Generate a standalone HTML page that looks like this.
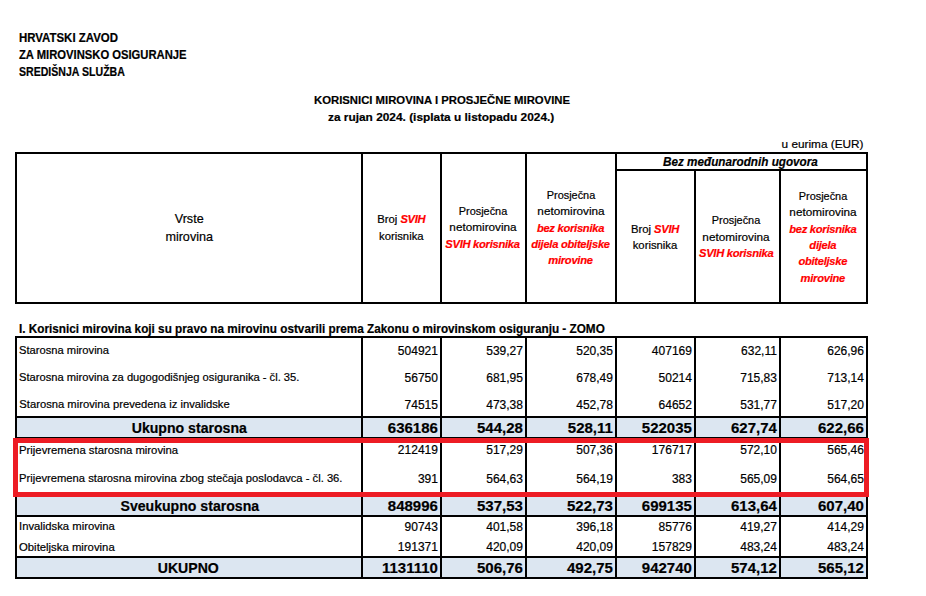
<!DOCTYPE html><html><head><meta charset="utf-8"><style>
html,body{margin:0;padding:0;background:#fff;}
body{width:926px;height:596px;position:relative;overflow:hidden;font-family:"Liberation Sans",sans-serif;}
.t{position:absolute;white-space:pre;line-height:1;-webkit-text-stroke:0.2px currentColor;}
.r{position:absolute;}
</style></head><body>
<div class="r" style="left:17px;top:418px;width:849px;height:19px;background:#DCE6F1"></div>
<div class="r" style="left:17px;top:497px;width:849px;height:18px;background:#DCE6F1"></div>
<div class="r" style="left:17px;top:558px;width:849px;height:19px;background:#DCE6F1"></div>
<div class="r" style="left:15px;top:152px;width:853px;height:2px;background:#000"></div>
<div class="r" style="left:15px;top:302px;width:853px;height:2px;background:#000"></div>
<div class="r" style="left:616px;top:169px;width:251px;height:2px;background:#000"></div>
<div class="r" style="left:15px;top:152px;width:2px;height:152px;background:#000"></div>
<div class="r" style="left:361px;top:152px;width:2px;height:152px;background:#000"></div>
<div class="r" style="left:440px;top:152px;width:2px;height:152px;background:#000"></div>
<div class="r" style="left:525px;top:152px;width:2px;height:152px;background:#000"></div>
<div class="r" style="left:615px;top:152px;width:2px;height:152px;background:#000"></div>
<div class="r" style="left:694px;top:170px;width:2px;height:134px;background:#000"></div>
<div class="r" style="left:779px;top:170px;width:2px;height:134px;background:#000"></div>
<div class="r" style="left:866px;top:152px;width:2px;height:152px;background:#000"></div>
<div class="r" style="left:15px;top:336px;width:853px;height:2px;background:#000"></div>
<div class="r" style="left:15px;top:416px;width:853px;height:2px;background:#000"></div>
<div class="r" style="left:15px;top:437px;width:853px;height:2px;background:#000"></div>
<div class="r" style="left:15px;top:495px;width:853px;height:2px;background:#000"></div>
<div class="r" style="left:15px;top:515px;width:853px;height:2px;background:#000"></div>
<div class="r" style="left:15px;top:556px;width:853px;height:2px;background:#000"></div>
<div class="r" style="left:15px;top:577px;width:853px;height:2px;background:#000"></div>
<div class="r" style="left:15px;top:336px;width:2px;height:243px;background:#000"></div>
<div class="r" style="left:361px;top:336px;width:2px;height:243px;background:#000"></div>
<div class="r" style="left:440px;top:336px;width:2px;height:243px;background:#000"></div>
<div class="r" style="left:525px;top:336px;width:2px;height:243px;background:#000"></div>
<div class="r" style="left:615px;top:336px;width:2px;height:243px;background:#000"></div>
<div class="r" style="left:694px;top:336px;width:2px;height:243px;background:#000"></div>
<div class="r" style="left:779px;top:336px;width:2px;height:243px;background:#000"></div>
<div class="r" style="left:866px;top:336px;width:2px;height:243px;background:#000"></div>
<div class="r" style="left:13px;top:438px;width:846px;height:49px;border:5px solid #ED1C24"></div>
<div class="t" style="font-size:12.1px;top:32.06px;font-weight:bold;font-style:normal;color:#000;left:19.48px;transform-origin:0 0;transform:scaleX(0.9457);">HRVATSKI ZAVOD</div>
<div class="t" style="font-size:12.1px;top:48.96px;font-weight:bold;font-style:normal;color:#000;left:19.47px;transform-origin:0 0;transform:scaleX(0.9293);">ZA MIROVINSKO OSIGURANJE</div>
<div class="t" style="font-size:12.1px;top:65.96px;font-weight:bold;font-style:normal;color:#000;left:19.46px;transform-origin:0 0;transform:scaleX(0.8738);">SREDIŠNJA SLUŽBA</div>
<div class="t" style="font-size:11.8px;top:95.01px;font-weight:bold;font-style:normal;color:#000;left:314.08px;transform-origin:0 0;transform:scaleX(0.9590);">KORISNICI MIROVINA I PROSJEČNE MIROVINE</div>
<div class="t" style="font-size:11.8px;top:112.01px;font-weight:bold;font-style:normal;color:#000;left:328.19px;transform-origin:0 0;transform:scaleX(1.0062);">za rujan 2024. (isplata u listopadu 2024.)</div>
<div class="t" style="font-size:11.8px;top:138.91px;font-weight:normal;font-style:normal;color:#000;right:62.50px;transform-origin:100% 0;">u eurima (EUR)</div>
<div class="t" style="font-size:12.6px;top:213.03px;font-weight:normal;font-style:normal;color:#000;left:189.2px;transform:translateX(-50%);">Vrste</div>
<div class="t" style="font-size:12.6px;top:231.03px;font-weight:normal;font-style:normal;color:#000;left:189.2px;transform:translateX(-50%);">mirovina</div>
<div class="t" style="font-size:11.3px;top:213.63px;font-weight:normal;font-style:normal;color:#000;left:401.3px;transform:translateX(-50%);">Broj <b style="font-style:italic;color:#FF0000;font-size:11.2px;letter-spacing:-0.28px">SVIH</b></div>
<div class="t" style="font-size:11.3px;top:230.73px;font-weight:normal;font-style:normal;color:#000;left:401.3px;transform:translateX(-50%);">korisnika</div>
<div class="t" style="font-size:11.3px;top:205.58px;font-weight:normal;font-style:normal;color:#000;left:482.5px;transform:translateX(-50%) scaleX(0.965);">Prosječna</div>
<div class="t" style="font-size:11.3px;top:221.78px;font-weight:normal;font-style:normal;color:#000;left:482.5px;transform:translateX(-50%) scaleX(1.04);">netomirovina</div>
<div class="t" style="font-size:11.3px;top:238.78px;font-weight:normal;font-style:normal;color:#000;left:482.5px;transform:translateX(-50%);"><b style="font-style:italic;color:#FF0000;font-size:11.2px;letter-spacing:-0.28px">SVIH korisnika</b></div>
<div class="t" style="font-size:11.3px;top:189.53px;font-weight:normal;font-style:normal;color:#000;left:570.5px;transform:translateX(-50%) scaleX(0.965);">Prosječna</div>
<div class="t" style="font-size:11.3px;top:205.73px;font-weight:normal;font-style:normal;color:#000;left:570.5px;transform:translateX(-50%) scaleX(1.04);">netomirovina</div>
<div class="t" style="font-size:11.3px;top:222.73px;font-weight:normal;font-style:normal;color:#000;left:570.5px;transform:translateX(-50%);"><b style="font-style:italic;color:#FF0000;font-size:11.2px;letter-spacing:-0.28px">bez korisnika</b></div>
<div class="t" style="font-size:11.3px;top:238.93px;font-weight:normal;font-style:normal;color:#000;left:570.5px;transform:translateX(-50%);"><b style="font-style:italic;color:#FF0000;font-size:11.2px;letter-spacing:-0.28px">dijela obiteljske</b></div>
<div class="t" style="font-size:11.3px;top:255.13px;font-weight:normal;font-style:normal;color:#000;left:570.5px;transform:translateX(-50%);"><b style="font-style:italic;color:#FF0000;font-size:11.2px;letter-spacing:-0.28px">mirovine</b></div>
<div class="t" style="font-size:12.1px;top:155.56px;font-weight:bold;font-style:italic;color:#000;left:662.88px;transform-origin:0 0;transform:scaleX(0.9683);">Bez međunarodnih ugovora</div>
<div class="t" style="font-size:11.3px;top:223.63px;font-weight:normal;font-style:normal;color:#000;left:655px;transform:translateX(-50%);">Broj <b style="font-style:italic;color:#FF0000;font-size:11.2px;letter-spacing:-0.28px">SVIH</b></div>
<div class="t" style="font-size:11.3px;top:239.83px;font-weight:normal;font-style:normal;color:#000;left:655px;transform:translateX(-50%);">korisnika</div>
<div class="t" style="font-size:11.3px;top:215.18px;font-weight:normal;font-style:normal;color:#000;left:736.2px;transform:translateX(-50%) scaleX(0.965);">Prosječna</div>
<div class="t" style="font-size:11.3px;top:232.18px;font-weight:normal;font-style:normal;color:#000;left:736.2px;transform:translateX(-50%) scaleX(1.04);">netomirovina</div>
<div class="t" style="font-size:11.3px;top:248.38px;font-weight:normal;font-style:normal;color:#000;left:736.2px;transform:translateX(-50%);"><b style="font-style:italic;color:#FF0000;font-size:11.2px;letter-spacing:-0.28px">SVIH korisnika</b></div>
<div class="t" style="font-size:11.3px;top:190.73px;font-weight:normal;font-style:normal;color:#000;left:822.8px;transform:translateX(-50%) scaleX(0.965);">Prosječna</div>
<div class="t" style="font-size:11.3px;top:206.93px;font-weight:normal;font-style:normal;color:#000;left:822.8px;transform:translateX(-50%) scaleX(1.04);">netomirovina</div>
<div class="t" style="font-size:11.3px;top:223.93px;font-weight:normal;font-style:normal;color:#000;left:822.8px;transform:translateX(-50%);"><b style="font-style:italic;color:#FF0000;font-size:11.2px;letter-spacing:-0.28px">bez korisnika</b></div>
<div class="t" style="font-size:11.3px;top:240.13px;font-weight:normal;font-style:normal;color:#000;left:822.8px;transform:translateX(-50%);"><b style="font-style:italic;color:#FF0000;font-size:11.2px;letter-spacing:-0.28px">dijela</b></div>
<div class="t" style="font-size:11.3px;top:256.33px;font-weight:normal;font-style:normal;color:#000;left:822.8px;transform:translateX(-50%);"><b style="font-style:italic;color:#FF0000;font-size:11.2px;letter-spacing:-0.28px">obiteljske</b></div>
<div class="t" style="font-size:11.3px;top:272.53px;font-weight:normal;font-style:normal;color:#000;left:822.8px;transform:translateX(-50%);"><b style="font-style:italic;color:#FF0000;font-size:11.2px;letter-spacing:-0.28px">mirovine</b></div>
<div class="t" style="font-size:12.2px;top:323.17px;font-weight:bold;font-style:normal;color:#000;left:19.31px;transform-origin:0 0;transform:scaleX(0.9643);">I. Korisnici mirovina koji su pravo na mirovinu ostvarili prema Zakonu o mirovinskom osiguranju - ZOMO</div>
<div class="t" style="font-size:11.24px;top:345.49px;font-weight:normal;font-style:normal;color:#000;left:19.29px;transform-origin:0 0;transform:scaleX(0.9945);">Starosna mirovina</div>
<div class="t" style="font-size:12px;top:344.84px;font-weight:normal;font-style:normal;color:#000;right:488.10px;transform-origin:100% 0;">504921</div>
<div class="t" style="font-size:12px;top:344.84px;font-weight:normal;font-style:normal;color:#000;right:403.10px;transform-origin:100% 0;">539,27</div>
<div class="t" style="font-size:12px;top:344.84px;font-weight:normal;font-style:normal;color:#000;right:313.10px;transform-origin:100% 0;">520,35</div>
<div class="t" style="font-size:12px;top:344.84px;font-weight:normal;font-style:normal;color:#000;right:234.10px;transform-origin:100% 0;">407169</div>
<div class="t" style="font-size:12px;top:344.84px;font-weight:normal;font-style:normal;color:#000;right:149.10px;transform-origin:100% 0;">632,11</div>
<div class="t" style="font-size:12px;top:344.84px;font-weight:normal;font-style:normal;color:#000;right:62.10px;transform-origin:100% 0;">626,96</div>
<div class="t" style="font-size:11.24px;top:372.49px;font-weight:normal;font-style:normal;color:#000;left:19.29px;transform-origin:0 0;transform:scaleX(0.9933);">Starosna mirovina za dugogodišnjeg osiguranika - čl. 35.</div>
<div class="t" style="font-size:12px;top:371.84px;font-weight:normal;font-style:normal;color:#000;right:488.10px;transform-origin:100% 0;">56750</div>
<div class="t" style="font-size:12px;top:371.84px;font-weight:normal;font-style:normal;color:#000;right:403.10px;transform-origin:100% 0;">681,95</div>
<div class="t" style="font-size:12px;top:371.84px;font-weight:normal;font-style:normal;color:#000;right:313.10px;transform-origin:100% 0;">678,49</div>
<div class="t" style="font-size:12px;top:371.84px;font-weight:normal;font-style:normal;color:#000;right:234.10px;transform-origin:100% 0;">50214</div>
<div class="t" style="font-size:12px;top:371.84px;font-weight:normal;font-style:normal;color:#000;right:149.10px;transform-origin:100% 0;">715,83</div>
<div class="t" style="font-size:12px;top:371.84px;font-weight:normal;font-style:normal;color:#000;right:62.10px;transform-origin:100% 0;">713,14</div>
<div class="t" style="font-size:11.24px;top:399.19px;font-weight:normal;font-style:normal;color:#000;left:19.29px;transform-origin:0 0;transform:scaleX(1.0000);">Starosna mirovina prevedena iz invalidske</div>
<div class="t" style="font-size:12px;top:398.54px;font-weight:normal;font-style:normal;color:#000;right:488.10px;transform-origin:100% 0;">74515</div>
<div class="t" style="font-size:12px;top:398.54px;font-weight:normal;font-style:normal;color:#000;right:403.10px;transform-origin:100% 0;">473,38</div>
<div class="t" style="font-size:12px;top:398.54px;font-weight:normal;font-style:normal;color:#000;right:313.10px;transform-origin:100% 0;">452,78</div>
<div class="t" style="font-size:12px;top:398.54px;font-weight:normal;font-style:normal;color:#000;right:234.10px;transform-origin:100% 0;">64652</div>
<div class="t" style="font-size:12px;top:398.54px;font-weight:normal;font-style:normal;color:#000;right:149.10px;transform-origin:100% 0;">531,77</div>
<div class="t" style="font-size:12px;top:398.54px;font-weight:normal;font-style:normal;color:#000;right:62.10px;transform-origin:100% 0;">517,20</div>
<div class="t" style="font-size:14.1px;top:421.06px;font-weight:bold;font-style:normal;color:#000;left:189.3px;transform:translateX(-50%);">Ukupno starosna</div>
<div class="t" style="font-size:15px;top:420.30px;font-weight:bold;font-style:normal;color:#000;right:488.10px;transform-origin:100% 0;">636186</div>
<div class="t" style="font-size:15px;top:420.30px;font-weight:bold;font-style:normal;color:#000;right:403.10px;transform-origin:100% 0;">544,28</div>
<div class="t" style="font-size:15px;top:420.30px;font-weight:bold;font-style:normal;color:#000;right:313.10px;transform-origin:100% 0;">528,11</div>
<div class="t" style="font-size:15px;top:420.30px;font-weight:bold;font-style:normal;color:#000;right:234.10px;transform-origin:100% 0;">522035</div>
<div class="t" style="font-size:15px;top:420.30px;font-weight:bold;font-style:normal;color:#000;right:149.10px;transform-origin:100% 0;">627,74</div>
<div class="t" style="font-size:15px;top:420.30px;font-weight:bold;font-style:normal;color:#000;right:62.10px;transform-origin:100% 0;">622,66</div>
<div class="t" style="font-size:11.24px;top:444.99px;font-weight:normal;font-style:normal;color:#000;left:19.29px;transform-origin:0 0;transform:scaleX(1.0075);">Prijevremena starosna mirovina</div>
<div class="t" style="font-size:12px;top:444.34px;font-weight:normal;font-style:normal;color:#000;right:488.10px;transform-origin:100% 0;">212419</div>
<div class="t" style="font-size:12px;top:444.34px;font-weight:normal;font-style:normal;color:#000;right:403.10px;transform-origin:100% 0;">517,29</div>
<div class="t" style="font-size:12px;top:444.34px;font-weight:normal;font-style:normal;color:#000;right:313.10px;transform-origin:100% 0;">507,36</div>
<div class="t" style="font-size:12px;top:444.34px;font-weight:normal;font-style:normal;color:#000;right:234.10px;transform-origin:100% 0;">176717</div>
<div class="t" style="font-size:12px;top:444.34px;font-weight:normal;font-style:normal;color:#000;right:149.10px;transform-origin:100% 0;">572,10</div>
<div class="t" style="font-size:12px;top:444.34px;font-weight:normal;font-style:normal;color:#000;right:62.10px;transform-origin:100% 0;">565,46</div>
<div class="t" style="font-size:11.24px;top:473.49px;font-weight:normal;font-style:normal;color:#000;left:19.29px;transform-origin:0 0;transform:scaleX(0.9981);">Prijevremena starosna mirovina zbog stečaja poslodavca - čl. 36.</div>
<div class="t" style="font-size:12px;top:472.84px;font-weight:normal;font-style:normal;color:#000;right:488.10px;transform-origin:100% 0;">391</div>
<div class="t" style="font-size:12px;top:472.84px;font-weight:normal;font-style:normal;color:#000;right:403.10px;transform-origin:100% 0;">564,63</div>
<div class="t" style="font-size:12px;top:472.84px;font-weight:normal;font-style:normal;color:#000;right:313.10px;transform-origin:100% 0;">564,19</div>
<div class="t" style="font-size:12px;top:472.84px;font-weight:normal;font-style:normal;color:#000;right:234.10px;transform-origin:100% 0;">383</div>
<div class="t" style="font-size:12px;top:472.84px;font-weight:normal;font-style:normal;color:#000;right:149.10px;transform-origin:100% 0;">565,09</div>
<div class="t" style="font-size:12px;top:472.84px;font-weight:normal;font-style:normal;color:#000;right:62.10px;transform-origin:100% 0;">564,65</div>
<div class="t" style="font-size:14.1px;top:499.06px;font-weight:bold;font-style:normal;color:#000;left:189.8px;transform:translateX(-50%);">Sveukupno starosna</div>
<div class="t" style="font-size:15px;top:498.30px;font-weight:bold;font-style:normal;color:#000;right:488.10px;transform-origin:100% 0;">848996</div>
<div class="t" style="font-size:15px;top:498.30px;font-weight:bold;font-style:normal;color:#000;right:403.10px;transform-origin:100% 0;">537,53</div>
<div class="t" style="font-size:15px;top:498.30px;font-weight:bold;font-style:normal;color:#000;right:313.10px;transform-origin:100% 0;">522,73</div>
<div class="t" style="font-size:15px;top:498.30px;font-weight:bold;font-style:normal;color:#000;right:234.10px;transform-origin:100% 0;">699135</div>
<div class="t" style="font-size:15px;top:498.30px;font-weight:bold;font-style:normal;color:#000;right:149.10px;transform-origin:100% 0;">613,64</div>
<div class="t" style="font-size:15px;top:498.30px;font-weight:bold;font-style:normal;color:#000;right:62.10px;transform-origin:100% 0;">607,40</div>
<div class="t" style="font-size:11.24px;top:520.79px;font-weight:normal;font-style:normal;color:#000;left:19.29px;transform-origin:0 0;transform:scaleX(1.0031);">Invalidska mirovina</div>
<div class="t" style="font-size:12px;top:521.14px;font-weight:normal;font-style:normal;color:#000;right:488.10px;transform-origin:100% 0;">90743</div>
<div class="t" style="font-size:12px;top:521.14px;font-weight:normal;font-style:normal;color:#000;right:403.10px;transform-origin:100% 0;">401,58</div>
<div class="t" style="font-size:12px;top:521.14px;font-weight:normal;font-style:normal;color:#000;right:313.10px;transform-origin:100% 0;">396,18</div>
<div class="t" style="font-size:12px;top:521.14px;font-weight:normal;font-style:normal;color:#000;right:234.10px;transform-origin:100% 0;">85776</div>
<div class="t" style="font-size:12px;top:521.14px;font-weight:normal;font-style:normal;color:#000;right:149.10px;transform-origin:100% 0;">419,27</div>
<div class="t" style="font-size:12px;top:521.14px;font-weight:normal;font-style:normal;color:#000;right:62.10px;transform-origin:100% 0;">414,29</div>
<div class="t" style="font-size:11.24px;top:542.29px;font-weight:normal;font-style:normal;color:#000;left:19.29px;transform-origin:0 0;transform:scaleX(1.0083);">Obiteljska mirovina</div>
<div class="t" style="font-size:12px;top:540.64px;font-weight:normal;font-style:normal;color:#000;right:488.10px;transform-origin:100% 0;">191371</div>
<div class="t" style="font-size:12px;top:540.64px;font-weight:normal;font-style:normal;color:#000;right:403.10px;transform-origin:100% 0;">420,09</div>
<div class="t" style="font-size:12px;top:540.64px;font-weight:normal;font-style:normal;color:#000;right:313.10px;transform-origin:100% 0;">420,09</div>
<div class="t" style="font-size:12px;top:540.64px;font-weight:normal;font-style:normal;color:#000;right:234.10px;transform-origin:100% 0;">157829</div>
<div class="t" style="font-size:12px;top:540.64px;font-weight:normal;font-style:normal;color:#000;right:149.10px;transform-origin:100% 0;">483,24</div>
<div class="t" style="font-size:12px;top:540.64px;font-weight:normal;font-style:normal;color:#000;right:62.10px;transform-origin:100% 0;">483,24</div>
<div class="t" style="font-size:14.1px;top:561.06px;font-weight:bold;font-style:normal;color:#000;left:188.3px;transform:translateX(-50%);">UKUPNO</div>
<div class="t" style="font-size:15px;top:560.30px;font-weight:bold;font-style:normal;color:#000;right:488.10px;transform-origin:100% 0;">1131110</div>
<div class="t" style="font-size:15px;top:560.30px;font-weight:bold;font-style:normal;color:#000;right:403.10px;transform-origin:100% 0;">506,76</div>
<div class="t" style="font-size:15px;top:560.30px;font-weight:bold;font-style:normal;color:#000;right:313.10px;transform-origin:100% 0;">492,75</div>
<div class="t" style="font-size:15px;top:560.30px;font-weight:bold;font-style:normal;color:#000;right:234.10px;transform-origin:100% 0;">942740</div>
<div class="t" style="font-size:15px;top:560.30px;font-weight:bold;font-style:normal;color:#000;right:149.10px;transform-origin:100% 0;">574,12</div>
<div class="t" style="font-size:15px;top:560.30px;font-weight:bold;font-style:normal;color:#000;right:62.10px;transform-origin:100% 0;">565,12</div>
</body></html>
